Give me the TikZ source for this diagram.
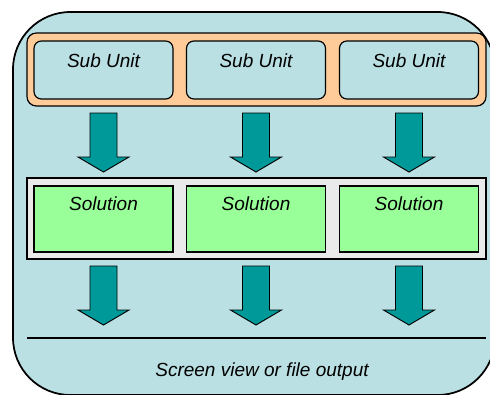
\documentclass[tikz,border=0pt]{standalone}
\usepackage{fontspec}
\setmainfont{Liberation Sans}
\definecolor{bgblue}{HTML}{BBE0E3}
\definecolor{orangefill}{HTML}{FFCC99}
\definecolor{greenfill}{HTML}{99FF99}
\definecolor{tealfill}{HTML}{009999}
\definecolor{grayfill}{HTML}{EAEAEA}
\begin{document}
\begin{tikzpicture}[x=0.75pt,y=-0.75pt,
  outerbox/.style={draw=black, line width=1.3pt, fill=bgblue, rounded corners=43pt},
  orangebox/.style={draw=black, line width=0.9pt, fill=orangefill, rounded corners=7pt,
    minimum width=344.25pt, minimum height=54.75pt, inner sep=0pt, outer sep=0pt},
  graybox/.style={draw=black, line width=0.9pt, fill=grayfill,
    minimum width=344.25pt, minimum height=60.75pt, inner sep=0pt, outer sep=0pt},
  subbox/.style={draw=black, line width=0.9pt, fill=bgblue, rounded corners=5.5pt,
    minimum width=104.25pt, minimum height=43.5pt, inner sep=0pt, outer sep=0pt},
  solbox/.style={draw=black, line width=0.9pt, fill=greenfill,
    minimum width=104.25pt, minimum height=49.5pt, inner sep=0pt, outer sep=0pt},
  lbl/.style={font=\fontsize{14.25}{17}\selectfont\itshape, text=black, inner sep=0pt, anchor=base},
  blockarrow/.style={draw=black, line width=0.7pt, fill=tealfill, line join=miter},
  barrow/.pic={\path[blockarrow] (-13.5,0) -- (13.5,0) -- (13.5,44) -- (25.5,44)
      -- (0,59) -- (-25.5,44) -- (-13.5,44) -- cycle;}
]
\useasboundingbox (0,0) rectangle (490,394);
\clip (0,0) rectangle (490,394);
\coordinate (outerNW) at (13,12);
\coordinate (outerSE) at (495,395);
\path[outerbox] (outerNW) rectangle (outerSE);
\node[orangebox] (ocont) at (256.5,69.5) {};
\node[graybox] (gcont) at (256.5,218.5) {};
\foreach \i/\x in {1/103.5,2/256,3/409}{
  \node[subbox] (su\i) at (\x,70) {};
  \node[lbl] (sut\i) at (\x,67.3) {Sub Unit};
  \node[solbox] (sol\i) at (\x,219) {};
  \node[lbl] (solt\i) at (\x,210.7) {Solution};
  \pic at ([yshift=-10.5pt]su\i.south) {barrow};
  \pic at ([yshift=-10.5pt]sol\i.south) {barrow};
}
\coordinate (lineL) at (27,338);
\coordinate (lineR) at (486,338);
\draw[line width=1pt] (lineL) -- (lineR);
\node[lbl] (out) at (262,376) {Screen view or file output};
\end{tikzpicture}
\end{document}
